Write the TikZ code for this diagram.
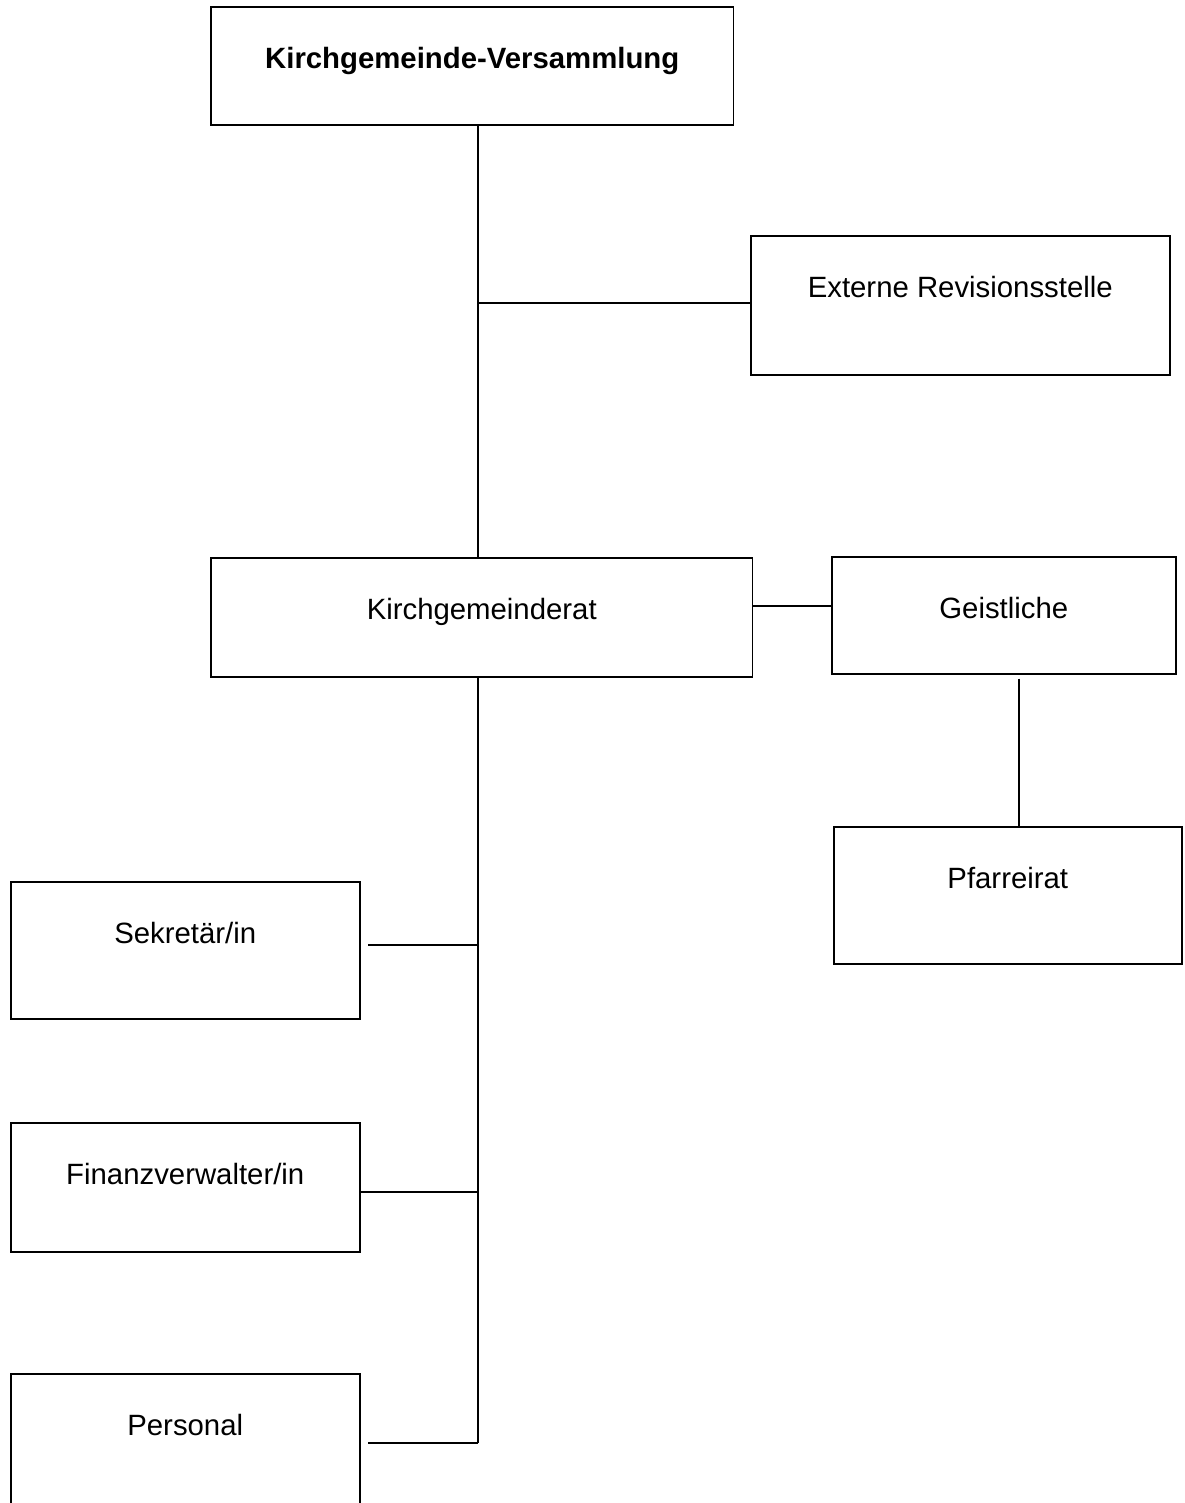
\documentclass[tikz,border=0pt]{standalone}
\usepackage{fontspec}
\setmainfont{Liberation Sans}
\begin{document}
\begin{tikzpicture}[x=0.02cm,y=-0.02cm,
    box/.style={draw,line width=0.9pt,anchor=north west,inner sep=0pt,
      text height=1.24cm,font=\fontsize{16.7}{20}\selectfont},
    link/.style={line width=0.9pt}]
    \useasboundingbox (0,0) rectangle (1184,1503);
    \node[box,minimum width=10.46cm,text depth=1.12cm,
      font=\fontsize{16.7}{20}\selectfont\bfseries] (vers) at (210,6) {Kirchgemeinde-Versammlung};
    \node[box,minimum width=8.38cm,text depth=1.54cm] (ext) at (750,235) {Externe Revisionsstelle};
    \node[box,minimum width=10.84cm,text depth=1.14cm] (rat) at (210,557) {Kirchgemeinderat};
    \node[box,minimum width=6.88cm,text depth=1.10cm] (geist) at (831,556) {Geistliche};
    \node[box,minimum width=6.96cm,text depth=1.50cm] (pfarr) at (833,826) {Pfarreirat};
    \node[box,minimum width=6.98cm,text depth=1.50cm] (sekr) at (10,881) {Sekretär/in};
    \node[box,minimum width=6.98cm,text depth=1.34cm] (fin) at (10,1122) {Finanzverwalter/in};
    \node[box,minimum width=6.98cm,text depth=1.50cm] (pers) at (10,1373) {Personal};
    \coordinate (revj) at (478,303);
    \coordinate (sekj) at (478,945);
    \coordinate (finj) at (478,1192);
    \coordinate (persj) at (478,1443);
    \coordinate (geistj) at (790,606);
    \coordinate (pfarrj) at (1019,740);
    \draw[link] (vers.south -| revj) -- (rat.north -| revj);
    \draw[link] (revj) -- (ext.west |- revj);
    \draw[link] (rat.east |- geistj) -- (geist.west |- geistj);
    \draw[link,shorten <=0.08cm] (geist.south -| pfarrj) -- (pfarr.north -| pfarrj);
    \draw[link] (rat.south -| revj) -- (persj);
    \draw[link,shorten >=0.14cm] (sekj) -- (sekr.east |- sekj);
    \draw[link] (finj) -- (fin.east |- finj);
    \draw[link,shorten >=0.14cm] (persj) -- (pers.east |- persj);
\end{tikzpicture}
\end{document}
